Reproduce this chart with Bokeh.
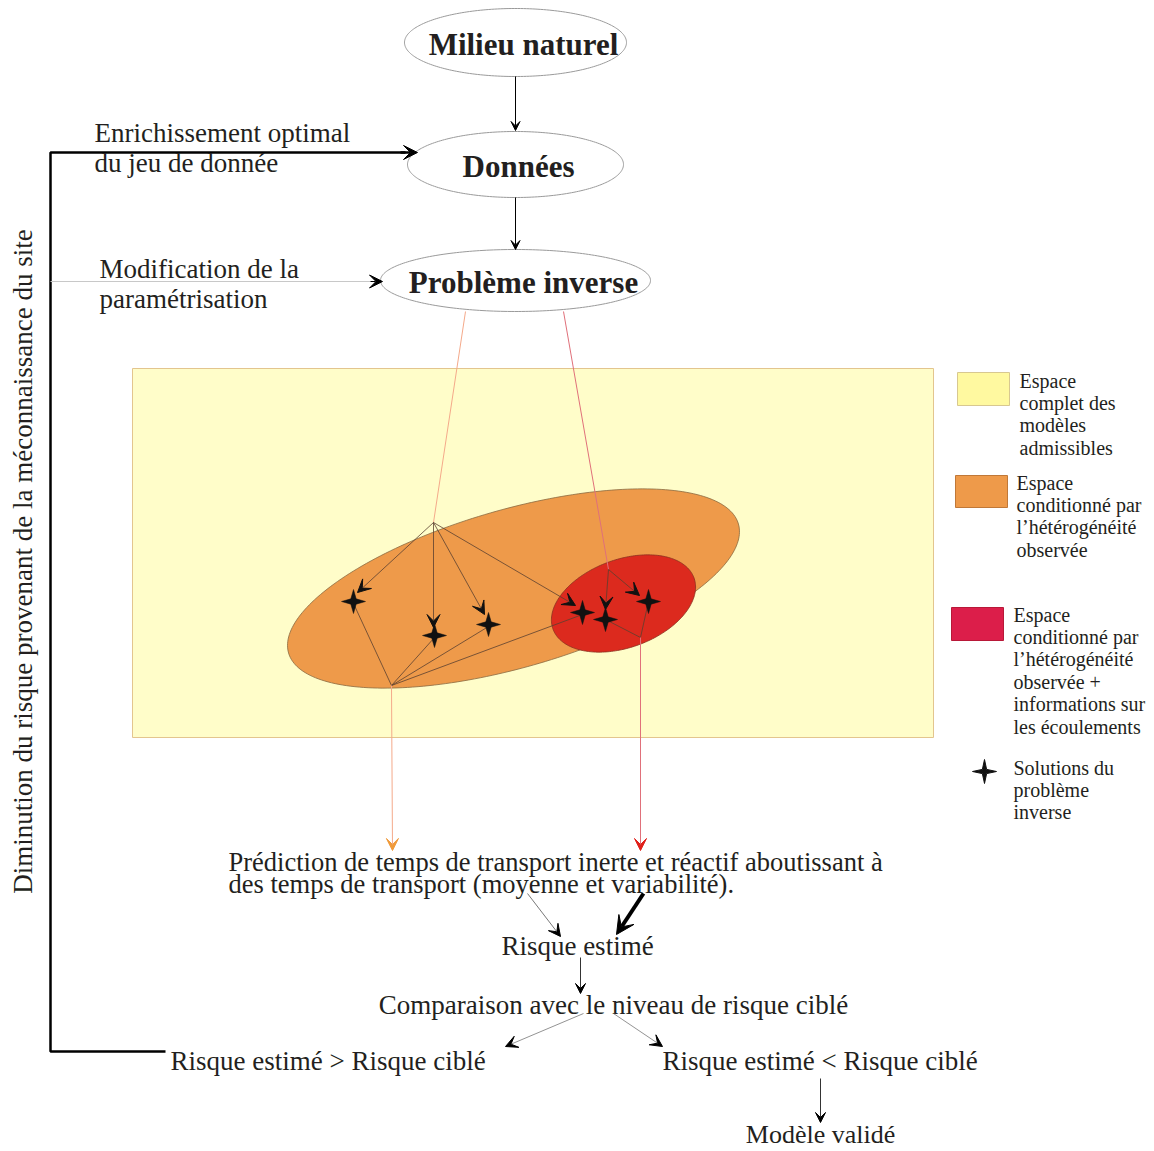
import numpy as np
from bokeh.plotting import figure
from bokeh.models import Range1d, Arrow, VeeHead
from bokeh.embed import file_html
from bokeh.resources import INLINE
from bokeh.core.properties import value

# ---------------- content ----------------
node_labels = ["Milieu naturel", "Données", "Problème inverse"]
left_labels = [["Enrichissement optimal", "du jeu de donnée"],
               ["Modification de la", "paramétrisation"]]
side_label = "Diminution du risque provenant de la méconnaissance du site"
legend_labels = [["Espace", "complet des", "modèles", "admissibles"],
                 ["Espace", "conditionné par", "l\u2019hétérogénéité", "observée"],
                 ["Espace", "conditionné par", "l\u2019hétérogénéité", "observée +",
                  "informations sur", "les écoulements"],
                 ["Solutions du", "problème", "inverse"]]
prediction_lines = ["Prédiction de temps de transport inerte et réactif aboutissant à",
                    "des temps de transport (moyenne et variabilité)."]
flow_labels = ["Risque estimé", "Comparaison avec le niveau de risque ciblé",
               "Risque estimé > Risque ciblé", "Risque estimé < Risque ciblé",
               "Modèle validé"]
# solutions of the inverse problem (diagram coordinates)
sol_x = [353, 434, 488, 582, 605, 648]
sol_y = [601, 635, 624, 612, 619, 601]

# ---------------- layout ----------------
FONT = value("Liberation Serif")
TXT = "#231f20"
W, H = 1154, 1151
p = figure(width=W, height=H, x_range=Range1d(0, W), y_range=Range1d(H, 0),
           output_backend="svg", toolbar_location=None, min_border=0)
p.axis.visible = False
p.grid.visible = False
p.outline_line_color = None


def ellipse_pts(cx, cy, a, b, ang):
    t = np.linspace(0, 2 * np.pi, 240)
    th = np.radians(ang)
    u, v = a * np.cos(t), b * np.sin(t)
    return cx + u * np.cos(th) - v * np.sin(th), cy - (u * np.sin(th) + v * np.cos(th))


def arrow(x0, y0, x1, y1, color="black", lw=1.0, size=10, head=None):
    hc = head or color
    p.add_layout(Arrow(end=VeeHead(size=size, fill_color=hc, line_color=hc, line_width=1),
                       x_start=x0, y_start=y0, x_end=x1, y_end=y1,
                       line_color=color, line_width=lw))


def star_pts(cx, cy, r1=12, r2=3.8):
    ang = np.linspace(0, 2 * np.pi, 9)[:-1] + np.pi / 2
    r = np.array([r1, r2] * 4)
    return list(cx + r * np.cos(ang)), list(cy - r * np.sin(ang))


# nodes (white ellipses)
node_cx = [515, 515, 515]
node_cy = [42, 164, 280]
node_a = [111, 108, 135]
node_b = [34, 33, 31]
for cx, cy, a, b in zip(node_cx, node_cy, node_a, node_b):
    ex, ey = ellipse_pts(cx, cy, a, b, 0)
    p.patch(ex, ey, fill_color="white", line_color="#9a9a9a", line_width=1)
p.text(x=[523, 518, 523], y=[44, 166, 282], text=node_labels, text_font=FONT,
       text_font_style="bold", text_font_size="31px", text_align="center",
       text_baseline="middle", text_color=TXT)

arrow(515, 76, 515, 130, size=9)
arrow(515, 197, 515, 249, size=9)

# feedback loop
p.line([165, 50, 50, 405], [1051, 1051, 152, 152], line_color="black", line_width=2.5)
arrow(400, 152, 417, 152, lw=2.5, size=14)
p.line([50, 372], [281, 281], line_color="#c8c8c8", line_width=1)
arrow(370, 281, 382, 281, color="black", lw=1, size=13)

p.text(x=[94, 94], y=[132, 162], text=left_labels[0], text_font=FONT, text_font_size="27px",
       text_baseline="middle", text_color=TXT)
p.text(x=[99, 99], y=[268, 298], text=left_labels[1], text_font=FONT, text_font_size="27px",
       text_baseline="middle", text_color=TXT)
p.text(x=[22], y=[561], text=[side_label], angle=np.pi / 2, text_font=FONT,
       text_font_size="27px", text_align="center", text_baseline="middle", text_color=TXT)

# model spaces
p.quad(left=132, right=933, top=368, bottom=737, fill_color="#fffdc9", line_color="#e3c58e",
       line_width=1)
ox, oy = ellipse_pts(513, 588, 234, 79, 16)
p.patch(ox, oy, fill_color="#ee9a4a", line_color="#8a6a40", line_width=0.8)
rx, ry = ellipse_pts(623, 603, 75, 44, 20)
p.patch(rx, ry, fill_color="#dc2a1e", line_color="#8a3020", line_width=0.8)

# projections from the inverse problem
p.line([465, 433], [311, 522], line_color="#f4a98a", line_width=1)
p.line([563, 608], [311, 569], line_color="#e0707a", line_width=1)
arrow(391, 685, 392, 850, color="#f4a98a", lw=1, size=12, head="#f09a3a")
arrow(640, 637, 640, 850, color="#e0707a", lw=1, size=12, head="#e0201a")

FAN = "#5a4030"
A = (433, 522)
B = (391, 685)
C = (608, 569)
D = (640, 637)
for i in range(4):
    p.line([B[0], sol_x[i]], [B[1], sol_y[i] + 2], line_color=FAN, line_width=0.8)
for i in (4, 5):
    p.line([D[0], sol_x[i]], [D[1], sol_y[i]], line_color=FAN, line_width=0.8)
heads = [(357, 592), (433, 627), (484, 614), (575, 605)]
for (hx, hy) in heads:
    arrow(A[0], A[1], hx, hy, color=FAN, lw=0.8, size=13, head="#111111")
arrow(C[0], C[1], 605, 609, color=FAN, lw=0.8, size=13, head="#111111")
arrow(C[0], C[1], 639, 595, color=FAN, lw=0.8, size=13, head="#111111")

sx, sy = [], []
for cx, cy in zip(sol_x, sol_y):
    a_, b_ = star_pts(cx, cy)
    sx.append(a_)
    sy.append(b_)
p.patches(sx, sy, fill_color="#111111", line_color="#111111", line_width=0.5)

# legend
p.quad(left=957, right=1009, top=372, bottom=405, fill_color="#fff9a0", line_color="#d8c890")
p.quad(left=955, right=1007, top=475, bottom=507, fill_color="#ee9a4a", line_color="#c07838")
p.quad(left=951, right=1003, top=607, bottom=640, fill_color="#dc1e4a", line_color="#b81838")
lx, ly = star_pts(984, 771, 12, 3.0)
p.patch(lx, ly, fill_color="#111111", line_color="#111111")
LS = 22.4
for x0, y0, lines in [(1019, 380, legend_labels[0]), (1016, 482, legend_labels[1]),
                      (1013, 614, legend_labels[2]), (1013, 767, legend_labels[3])]:
    p.text(x=[x0] * len(lines), y=[y0 + k * LS for k in range(len(lines))], text=lines,
           text_font=FONT, text_font_size="20px", text_baseline="middle", text_color=TXT)

# bottom flow
p.text(x=[228, 228], y=[861, 883], text=prediction_lines, text_font=FONT,
       text_font_size="26.5px", text_baseline="middle", text_color=TXT)
arrow(527, 893, 560, 936, lw=0.8, size=12, color="#555555", head="black")
arrow(643, 893, 616, 934, lw=4, size=18)
p.text(x=[577], y=[945], text=[flow_labels[0]], text_font=FONT, text_font_size="27px",
       text_align="center", text_baseline="middle", text_color=TXT)
arrow(580, 957, 580, 993, lw=0.8, size=10)
p.text(x=[613], y=[1004], text=[flow_labels[1]], text_font=FONT, text_font_size="27px",
       text_align="center", text_baseline="middle", text_color=TXT)
arrow(583, 1013, 505, 1046, lw=0.8, size=12, color="#777777", head="black")
arrow(613, 1013, 662, 1046, lw=0.8, size=12, color="#777777", head="black")
p.text(x=[170, 662], y=[1060, 1060], text=flow_labels[2:4], text_font=FONT,
       text_font_size="27px", text_baseline="middle", text_color=TXT)
arrow(820, 1078, 820, 1122, lw=0.8, size=10)
p.text(x=[820], y=[1134], text=[flow_labels[4]], text_font=FONT, text_font_size="26px",
       text_align="center", text_baseline="middle", text_color=TXT)

open("out.html", "w").write(file_html(p, INLINE))
